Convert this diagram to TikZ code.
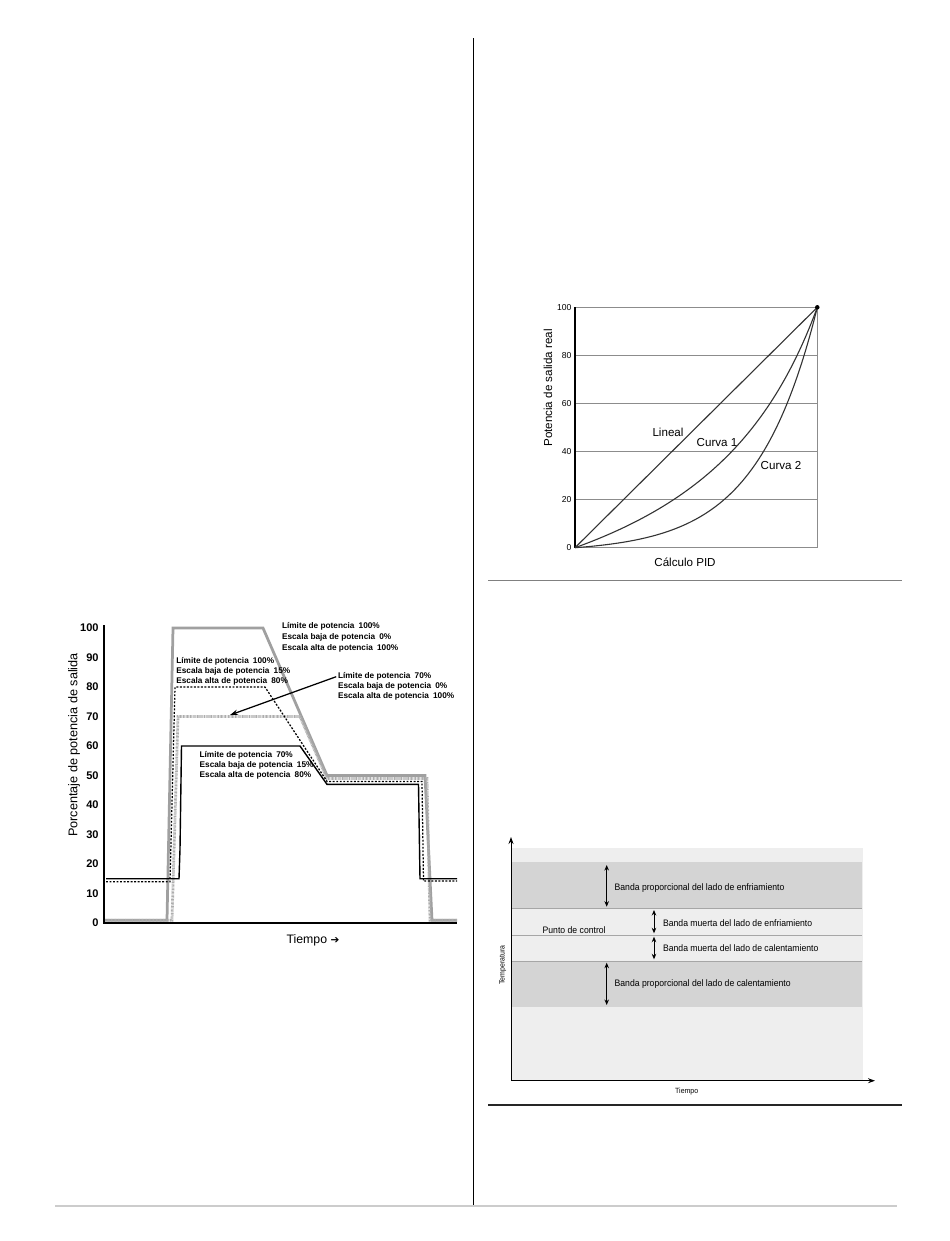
\documentclass[tikz,border=0pt]{standalone}
\usepackage{fontspec}
\setmainfont{Liberation Sans}
\newfontfamily\narrowfont[FakeStretch=0.92]{Liberation Sans}
\newfontfamily\dejavu{DejaVu Sans}
\usetikzlibrary{arrows.meta}
\definecolor{gsolid}{HTML}{A0A0A0}
\definecolor{gdot}{HTML}{ADADAD}
\definecolor{gridbg}{HTML}{EEEEEE}
\definecolor{bandgray}{HTML}{D4D4D4}
\definecolor{rulegray}{HTML}{CCCCCC}
\definecolor{gridline}{HTML}{8C8C8C}
\definecolor{curvecol}{HTML}{333333}
\newcommand\fsz[1]{\fontsize{#1}{#1}\selectfont}
\begin{document}
\begin{tikzpicture}[x=0.2mm,y=-0.2mm,
  every node/.style={inner sep=0pt},
  ltick/.style={font=\fsz{6.3pt}\bfseries, anchor=east},
  ann/.style={font=\fsz{4.7pt}\bfseries, anchor=west},
  rtick/.style={font=\fsz{4.9pt}, anchor=east},
  rlabel/.style={font=\fsz{6.6pt}},
  bandtxt/.style={font=\narrowfont\fsz{5.35pt}, anchor=west},
  smalltxt/.style={font=\narrowfont\fsz{4.3pt}},
  rgrid/.style={draw=gridline, line width=0.2mm},
  pidcurve/.style={draw=curvecol, line width=0.22mm},
  dbl/.style={{Stealth[length=1.1mm,width=0.9mm]}-{Stealth[length=1.1mm,width=0.9mm]}, line width=0.2mm},
  axarrow/.style={-{Stealth[length=1.4mm,width=1mm]}, line width=0.2mm},
  sgray/.style={draw=gsolid, line width=0.55mm, line join=miter},
  dgray/.style={draw=gdot, line width=0.55mm, dash pattern=on 0.45pt off 0.35pt},
  bdash/.style={draw=black, line width=0.25mm, dash pattern=on 1.1pt off 0.9pt},
  bsolid/.style={draw=black, line width=0.28mm}
]
\useasboundingbox (0,0) rectangle (950,1241);
\fill[white] (0,0) rectangle (950,1241);

% page rules
\draw[black, line width=0.2mm] (473.3,38) -- (473.3,1205);
\draw[rulegray, line width=0.4mm] (55,1206) -- (897,1206);
\draw[gray, line width=0.2mm] (488,580) -- (902,580);
\draw[black!85, line width=0.25mm] (488,1105) -- (902,1105);

% ================= LEFT CHART =================
\begin{scope}[shift={(0,923)}, y=0.59mm]
  \foreach \v in {0,10,...,100} \node[ltick] (lt\v) at (99,\v) {\v};
  % curves
  \draw[sgray] (104,0.9) -- (167,0.9) -- (173,100) -- (263,100) -- (327,50) -- (425,50) -- (432,0.9) -- (457,0.9);
  \draw[dgray] (104,0.9) -- (172,0.9) -- (178,70) -- (300,70) -- (327,49) -- (427,49) -- (430,0.9) -- (457,0.9);
  \draw[bdash] (106,14) -- (170,14) -- (175,80) -- (265,80) -- (327,48) -- (422,48) -- (423.5,14.2) -- (457,14.2);
  \draw[bsolid] (106,15) -- (179,15) -- (180,25) -- (181.5,60) -- (300,60) -- (327,47) -- (418.5,47) -- (420,15) -- (457,15);
  % axes
  \draw[black, line width=0.3mm] (104,101) -- (104,0) -- (457,0);
  \coordinate (arrtip) at (230,70.5);
\end{scope}
\node[font=\fsz{7.2pt}, rotate=90] (lylab) at (74,745) {Porcentaje de potencia de salida};
\node[font=\fsz{7pt}] (lxlab) at (313,940) {Tiempo {\dejavu\fsz{6pt}➔}};

\node[ann] (a1) at (281.7,626.7) {Límite de potencia\enspace 100\%};
\node[ann] (a2) at (281.7,637.3) {Escala baja de potencia\enspace 0\%};
\node[ann] (a3) at (281.7,648) {Escala alta de potencia\enspace 100\%};

\node[ann] (b1) at (176,661.7) {Límite de potencia\enspace 100\%};
\node[ann] (b2) at (176,671.3) {Escala baja de potencia\enspace 15\%};
\node[ann] (b3) at (176,681) {Escala alta de potencia\enspace 80\%};

\node[ann] (c1) at (337.7,676.7) {Límite de potencia\enspace 70\%};
\node[ann] (c2) at (337.7,686.7) {Escala baja de potencia\enspace 0\%};
\node[ann] (c3) at (337.7,696.7) {Escala alta de potencia\enspace 100\%};

\node[ann] (d1) at (199.3,755) {Límite de potencia\enspace 70\%};
\node[ann] (d2) at (199.3,765) {Escala baja de potencia\enspace 15\%};
\node[ann] (d3) at (199.3,775) {Escala alta de potencia\enspace 80\%};

\draw[-{Stealth[length=1.6mm,width=1.1mm]}, line width=0.25mm] ([xshift=-0.3mm]c1.west) -- (arrtip);

% ================= RIGHT TOP CHART =================
\begin{scope}[shift={(575,547.7)}, x=0.4846mm, y=0.4808mm]
  \foreach \v in {20,40,60,80,100} \draw[rgrid] (0,\v) -- (100,\v);
  \draw[rgrid] (0,0) -- (100,0) -- (100,100);
  \draw[black, line width=0.25mm] (0,0) -- (0,100);
  \foreach \v in {0,20,...,100} \node[rtick] (rt\v) at (-1.3,\v) {\v};
  \draw[pidcurve] (0,0) -- (100,100);
  \draw[pidcurve] plot[domain=0:100, samples=80, smooth] (\x, {100*\x/(274.5-1.745*\x)});
  \draw[pidcurve] plot[domain=0:100, samples=80, smooth] (\x, {100*(exp(4*\x/100)-1)/(exp(4)-1)});
  \fill[black] (100,100) circle (0.45mm);
\end{scope}
\node[rlabel] (lin) at (668,432) {Lineal};
\node[rlabel] (cv1) at (717,443) {Curva 1};
\node[rlabel] (cv2) at (781,465) {Curva 2};
\node[rlabel, rotate=90] (rylab) at (548,388) {Potencia de salida real};
\node[rlabel] (rxlab) at (685,562) {Cálculo PID};

% ================= RIGHT BOTTOM CHART =================
\fill[gridbg] (511,848.3) rectangle (862.7,1080.7);
\fill[bandgray] (511,862.3) rectangle (861.7,908.3);
\fill[bandgray] (511,961) rectangle (861.7,1006.7);
\foreach \yy in {908.3,935,961} \draw[draw=gray!70, line width=0.15mm] (511,\yy) -- (862,\yy);
\coordinate (yax0) at (511,1080.7);
\coordinate (yax1) at (511,837);
\coordinate (xax1) at (875,1080.7);
\draw[axarrow] (yax0) -- (yax1);
\draw[axarrow] (yax0) -- (xax1);

\coordinate (p1a) at (606.7,865);   \coordinate (p1b) at (606.7,906.7);
\coordinate (m1a) at (654,910);     \coordinate (m1b) at (654,933.3);
\coordinate (m2a) at (654,936.7);   \coordinate (m2b) at (654,959.3);
\coordinate (p2a) at (606.7,962.7); \coordinate (p2b) at (606.7,1005);
\draw[dbl] (p1a) -- (p1b);
\draw[dbl] (m1a) -- (m1b);
\draw[dbl] (m2a) -- (m2b);
\draw[dbl] (p2a) -- (p2b);

\node[bandtxt] (t1) at (614.3,887.7) {Banda proporcional del lado de enfriamiento};
\node[bandtxt] (t2) at (662.7,922.7) {Banda muerta del lado de enfriamiento};
\node[bandtxt] (t3) at (542.3,930) {Punto de control};
\node[bandtxt] (t4) at (662.7,948.3) {Banda muerta del lado de calentamiento};
\node[bandtxt] (t5) at (614.3,984) {Banda proporcional del lado de calentamiento};
\node[smalltxt, rotate=90] (tylab) at (502.7,965) {Temperatura};
\node[smalltxt] (txlab) at (686.7,1091.7) {Tiempo};
\end{tikzpicture}
\end{document}
